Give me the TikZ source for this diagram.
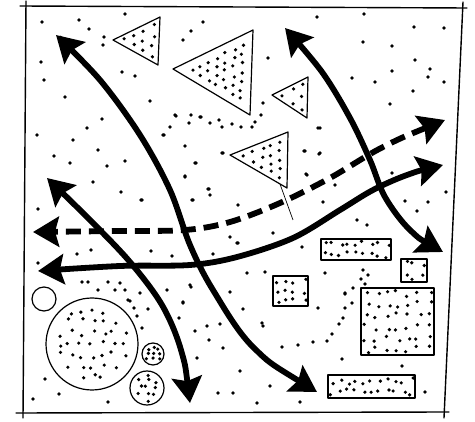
\documentclass[tikz,border=0pt]{standalone}
\usetikzlibrary{arrows.meta}
% jittered grid of dots in a rectangle: x1 y1 x2 y2 nx ny
\newcommand\rectdots[6]{%
  \foreach \i in {1,...,#5}{\foreach \j in {1,...,#6}{%
    \pgfmathsetmacro\mypx{#1+(#3-#1)*(\i-0.5)/#5+(rnd-0.5)*0.6*(#3-#1)/#5}%
    \pgfmathsetmacro\mypy{#2+(#4-#2)*(\j-0.5)/#6+(rnd-0.5)*0.6*(#4-#2)/#6}%
    \fill (\mypx,\mypy) circle[radius=1.8pt];}}}
% lattice of dots in a triangle: ax ay bx by cx cy n
\newcommand\tridots[7]{%
  \foreach \i in {0,...,#7}{\foreach \j in {0,...,#7}{%
    \pgfmathtruncatemacro\myok{(\i+\j<=#7)}%
    \ifnum\myok=1
    \pgfmathsetmacro\mypx{#1+\i/#7*(#3-#1)+\j/#7*(#5-#1)}%
    \pgfmathsetmacro\mypy{#2+\i/#7*(#4-#2)+\j/#7*(#6-#2)}%
    \pgfmathsetmacro\mygx{(#1+#3+#5)/3}%
    \pgfmathsetmacro\mygy{(#2+#4+#6)/3}%
    \fill ({\mygx+0.62*(\mypx-\mygx)+(rnd-0.5)*3},{\mygy+0.62*(\mypy-\mygy)+(rnd-0.5)*3}) circle[radius=1.8pt];
    \fi}}}
% jittered grid in a circle: cx cy r step
\newcommand\circdots[4]{%
  \pgfmathtruncatemacro\myn{floor(#3/#4)}%
  \foreach \i in {-\myn,...,\myn}{\foreach \j in {-\myn,...,\myn}{%
    \pgfmathsetmacro\mypx{\i*#4+(rnd-0.5)*0.6*#4}%
    \pgfmathsetmacro\mypy{\j*#4+(rnd-0.5)*0.6*#4}%
    \pgfmathtruncatemacro\myok{(\mypx*\mypx+\mypy*\mypy<(0.8*#3)*(0.8*#3))}%
    \ifnum\myok=1
    \fill ({#1+\mypx},{#2+\mypy}) circle[radius=1.8pt];
    \fi}}}
\tikzset{
  frameline/.style={line width=1.4pt, line cap=round},
  shapeline/.style={line width=1.2pt, line join=round},
  bigarrow/.style={line width=5.8pt,
    {Stealth[length=26pt,width=30pt,inset=4pt]}-{Stealth[length=26pt,width=30pt,inset=4pt]}},
  dasharrow/.style={bigarrow, dash pattern=on 15pt off 8pt}
}
\begin{document}
\begin{tikzpicture}[x=1pt,y=-1pt]
\useasboundingbox (0,0) rectangle (475,422);
\fill[white] (0,0) rectangle (475,422);
\pgfmathsetseed{4242}
% frame
\draw[frameline] (20,6) -- (467,8);
\draw[frameline] (26,1) -- (23,418);
\draw[frameline] (16,413) -- (449,412);
\draw[frameline] (463,2) -- (444,418);
% triangles
\draw[shapeline] (113,40) -- (160,17) -- (158,65) -- cycle;
\tridots{113}{40}{160}{17}{158}{65}{3}
\draw[shapeline] (173,69) -- (253,30) -- (250,115) -- cycle;
\tridots{173}{69}{253}{30}{250}{115}{6}
\draw[shapeline] (272,95) -- (308,77) -- (307,118) -- cycle;
\tridots{272}{95}{308}{77}{307}{118}{2}
\draw[shapeline] (230,155) -- (288,132) -- (287,188) -- cycle;
\tridots{230}{155}{288}{132}{287}{188}{4}
\draw[line width=0.7pt] (280,184) -- (293,220);
% circles
\draw[shapeline] (44,299) circle[radius=12pt];
\draw[shapeline] (92,344) circle[radius=46pt];
\circdots{92}{344}{46}{11}
\draw[shapeline] (153,354) circle[radius=11pt];
\circdots{153}{354}{11}{5.5}
\draw[shapeline] (147,388) circle[radius=17pt];
\circdots{147}{388}{17}{7}
% rectangles
\draw[shapeline] (321,239) rectangle (391,260);
\rectdots{321}{239}{391}{260}{9}{2}
\draw[shapeline] (401,259) rectangle (427,282);
\rectdots{401}{259}{427}{282}{3}{2}
\draw[shapeline] (273,276) rectangle (308,306);
\rectdots{273}{276}{308}{306}{4}{3}
\draw[shapeline] (361,288) rectangle (434,355);
\rectdots{361}{288}{434}{355}{7}{6}
\draw[shapeline] (328,375) rectangle (415,398);
\rectdots{328}{375}{415}{398}{11}{2}
% scattered dots
\foreach \p in {(42,22),(79,20),(89,29),(125,14),(104,37),(103,45),(41,62),(44,80),
 (122,72),(135,76),(65,97),(150,101),(102,119),(87,128),(37,135),(73,140),(98,150),
 (54,156),(70,163),(107,166),(125,161),(93,182),(121,192),(141,200),(38,209),
 (176,116),(191,115),(200,117),(170,127),(189,123),(210,123),(219,120),(222,127),
 (232,124),(164,135),(185,146),(223,153),(196,163),(185,176),(209,189),(210,195),
 (193,200),(183,40),(191,31),(203,22),
 (317,17),(364,14),(414,27),(444,28),(363,42),(392,46),(415,60),(392,71),(430,69),
 (428,77),(352,78),(375,82),(444,82),(413,91),(390,104),(268,58),(263,103),(261,115),
 (255,122),(241,127),(252,127),(318,128),(304,151),(319,154),(306,174),(335,185),
 (392,173),(405,201),(428,202),(446,192),(323,202),
 (175,115),(201,117),(163,135),(195,163),(185,177),
 (208,189),(192,200),(222,153),(142,200),(238,205),(305,151),(320,153),(307,175),
 (320,128),(273,233),(230,237),(237,243),(151,251),(172,256),(213,254),(302,247),
 (247,273),(265,272),(325,273),(190,285),(230,292),(140,293),(128,300),(167,290),
 (183,302),(345,293),(352,303),
 (38,263),(77,254),(91,250),(88,282),(108,282),(82,282),(98,290),(115,290),
 (120,283),(125,290),(130,301),(134,308),(137,316),(142,328),(148,309),(191,287),
 (183,303),(179,318),(195,331),(207,326),(220,324),(209,340),(223,348),
 (197,358),(218,393),(233,393),(45,379),(59,394),(33,399),(108,402),
 (357,220),(367,225),(417,211),(238,243),(363,270),(368,275),(361,279),(365,284),
 (353,288),(345,294),(345,308),(343,318),(339,324),(332,334),(327,341),(313,342),
 (298,345),(282,347),(318,308),(243,309),(262,323),(263,326),(342,359),(402,366),
 (240,371),(270,386),(257,403),(300,402),(425,392)}
  \fill \p circle[radius=1.9pt];
% arrows
\draw[bigarrow] plot[smooth, tension=0.55] coordinates {(317,392) (253,347) (213,290)
  (190,245) (170,190) (140,135) (100,80) (56,35)};
\draw[bigarrow] plot[smooth, tension=0.55] coordinates {(190,403) (181,350) (162,305)
  (130,262) (90,220) (47,178)};
\draw[bigarrow] plot[smooth, tension=0.55] coordinates {(443,252) (410,230) (385,197)
  (370,160) (350,118) (322,72) (285,28)};
\draw[dasharrow] plot[smooth, tension=0.55] coordinates {(445,120) (383,147) (330,178)
  (280,203) (230,222) (185,230) (120,231) (33,232)};
\draw[bigarrow] plot[smooth, tension=0.55] coordinates {(443,165) (407,175) (373,190)
  (340,210) (293,238) (237,257) (190,265) (120,266) (38,271)};
\end{tikzpicture}
\end{document}
